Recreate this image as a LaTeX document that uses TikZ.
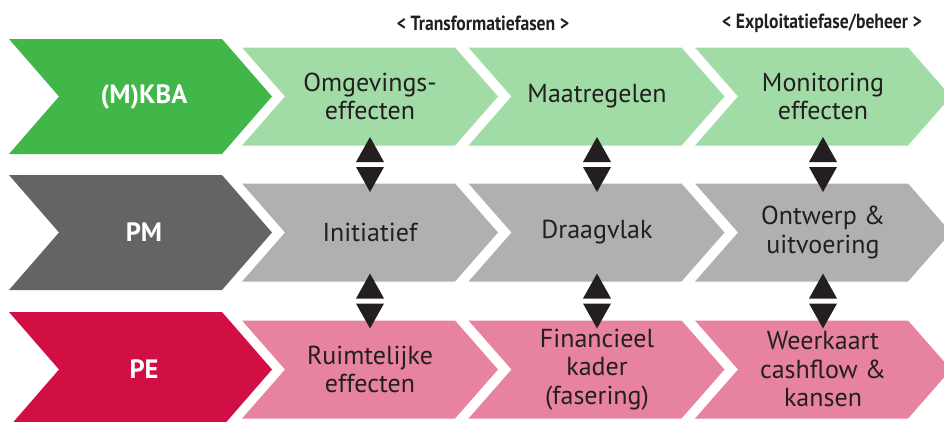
\documentclass[tikz,border=0pt]{standalone}
\usepackage{fontspec}
\setmainfont{PT Sans}
\newfontfamily\hdrfont[FakeStretch=0.86]{PT Sans Bold}
\usetikzlibrary{calc}
\definecolor{dgreen}{HTML}{41B649}
\definecolor{lgreen}{HTML}{A1DBA6}
\definecolor{dgray}{HTML}{646466}
\definecolor{lgray}{HTML}{B0B0B0}
\definecolor{dred}{HTML}{D20F45}
\definecolor{lpink}{HTML}{E7839E}
\definecolor{txt}{HTML}{231F20}
% #1 left x, #2 centre y, #3 width, #4 depth, #5 half height, #6 colour
\newcommand{\chevfill}[6]{%
  \fill[#6] (#1,#2-#5) -- (#1+#3,#2-#5) -- (#1+#3+#4,#2) -- (#1+#3,#2+#5) -- (#1,#2+#5) -- (#1+#4,#2) -- cycle;}
\newcommand{\bigchev}[2]{\chevfill{9}{#1}{213}{50}{57.5}{#2}}
\newcommand{\smallchev}[3]{\chevfill{#1}{#2}{213}{43}{49}{#3}}
\tikzset{
  lt/.style={align=center, text=txt, inner sep=0pt, font=\fontsize{26}{28.5}\selectfont},
  bt/.style={align=center, text=white, inner sep=0pt, font=\fontsize{26.5}{28}\selectfont\bfseries},
  hdr/.style={text=txt, inner sep=0pt, font=\hdrfont\fontsize{20.5}{24}\selectfont},
  tri/.style={fill=txt}
}
\begin{document}
\begin{tikzpicture}[x=1pt,y=-1pt]
\useasboundingbox (0,0) rectangle (944,421);
% row 1
\bigchev{96.5}{dgreen}
\smallchev{242}{96.5}{lgreen}
\smallchev{468.5}{96.5}{lgreen}
\smallchev{695}{96.5}{lgreen}
% row 2
\bigchev{232.5}{dgray}
\smallchev{242}{232.5}{lgray}
\smallchev{468.5}{232.5}{lgray}
\smallchev{695}{232.5}{lgray}
% row 3
\bigchev{369.5}{dred}
\smallchev{242}{369.5}{lpink}
\smallchev{468.5}{369.5}{lpink}
\smallchev{695}{369.5}{lpink}
% headers
\node[hdr] (h1) at (483,23) {< Transformatiefasen >};
\node[hdr] (h2) at (822,23) {< Exploitatiefase/beheer >};
% labels
\node[bt] (mkba) at (144,96.5) {(M)KBA};
\node[bt] (pm) at (144,232.5) {PM};
\node[bt] (pe) at (144,369.5) {PE};
\node[lt] (omg) at (370,96.5) {Omgevings-\\effecten};
\node[lt] (maat) at (597,96.5) {Maatregelen};
\node[lt] (mon) at (823,96.5) {Monitoring\\effecten};
\node[lt] (ini) at (370,232.5) {Initiatief};
\node[lt] (draag) at (597,232.5) {Draagvlak};
\node[lt] (ontw) at (823,232.5) {Ontwerp \&\\uitvoering};
\node[lt] (ruim) at (370,369.5) {Ruimtelijke\\effecten};
\node[lt] (fin) at (597,369.5) {Financieel\\kader\\(fasering)};
\node[lt] (weer) at (823,369.5) {Weerkaart\\cashflow \&\\kansen};
% double triangles
\foreach \a/\b/\n in {omg/ini/m1, maat/draag/m2, mon/ontw/m3, ini/ruim/m4, draag/fin/m5, ontw/weer/m6}{
  \coordinate (\n) at ($(\a)!0.5!(\b)$);
  \fill[tri] (\n) ++(-14,-2.5) -- ++(28,0) -- ++(-14,-25) -- cycle;
  \fill[tri] (\n) ++(-14,2.5) -- ++(28,0) -- ++(-14,25) -- cycle;
}
\end{tikzpicture}
\end{document}
